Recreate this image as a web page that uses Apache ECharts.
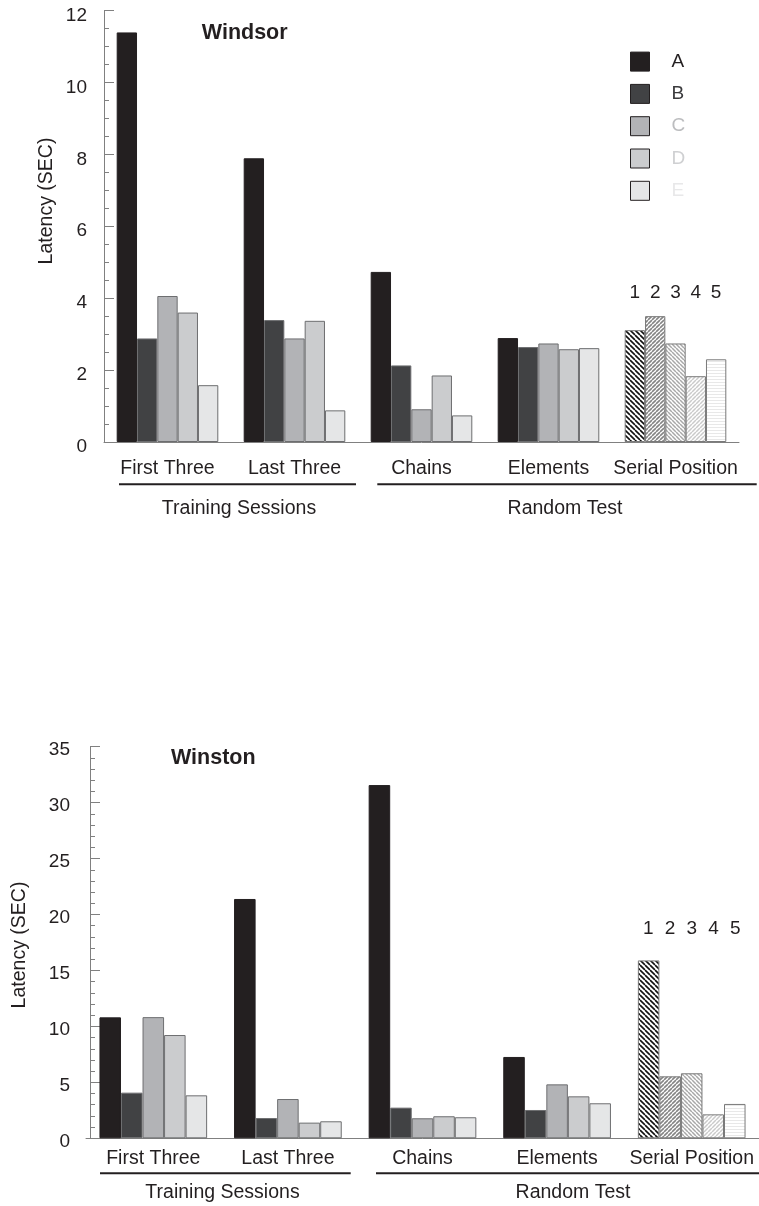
<!DOCTYPE html>
<html><head><meta charset="utf-8">
<script src="https://cdn.jsdelivr.net/npm/echarts@6/dist/echarts.min.js"></script>
<style>html,body{margin:0;padding:0;background:#fff}#c{width:759px;height:1206px}</style>
</head><body><div id="c"></div><script>
// ---------- data ----------
const categories = ['First Three', 'Last Three', 'Chains', 'Elements', 'Serial Position'];
const seriesNames = ['A', 'B', 'C', 'D', 'E'];
const positionLabels = ['1', '2', '3', '4', '5'];
const panelTitles = ['Windsor', 'Winston'];
const groupLabels = ['Training Sessions', 'Random Test'];
const yAxisName = 'Latency (SEC)';

// Windsor (first 4 categories), per series
const windsorA = [11.39, 7.89, 4.73, 2.89];
const windsorB = [2.88, 3.39, 2.13, 2.64];
const windsorC = [4.06, 2.88, 0.91, 2.74];
const windsorD = [3.60, 3.37, 1.85, 2.58];
const windsorE = [1.58, 0.88, 0.74, 2.61];
const windsorSerial = [3.11, 3.50, 2.74, 1.83, 2.30];

// Winston
const winstonA = [10.81, 21.39, 31.57, 7.27];
const winstonB = [4.08, 1.81, 2.74, 2.53];
const winstonC = [10.83, 3.51, 1.79, 4.82];
const winstonD = [9.23, 1.40, 1.97, 3.75];
const winstonE = [3.84, 1.52, 1.88, 3.13];
const winstonSerial = [15.9, 5.54, 5.81, 2.14, 3.07];

const yMax = [12, 35];
const yInterval = [2, 5];
const yMinorSplit = [4, 5];

// ---------- styling ----------
const FONT = '"Liberation Sans", Arial, Helvetica, sans-serif';
const INK = '#231f20';
const fills = ['#231f20', '#414244', '#b2b3b6', '#cbccce', '#e5e6e7'];
const legendText = ['#231f20', '#3a3a3c', '#bcbdbf', '#cfd0d2', '#e8e8e9'];

function makePattern(kind, color, lw, s) {
  const c = document.createElement('canvas');
  c.width = s; c.height = s;
  const ctx = c.getContext('2d');
  ctx.fillStyle = '#ffffff';
  ctx.fillRect(0, 0, s, s);
  ctx.strokeStyle = color;
  ctx.lineWidth = lw;
  ctx.beginPath();
  if (kind === 'h') {
    ctx.moveTo(0, s / 2); ctx.lineTo(s, s / 2);
  } else {
    for (const k of [-s, 0, s]) {
      if (kind === 'back') { ctx.moveTo(k, 0); ctx.lineTo(k + s, s); }
      else { ctx.moveTo(k, s); ctx.lineTo(k + s, 0); }
    }
  }
  ctx.stroke();
  return { image: c, repeat: 'repeat' };
}
const patterns = [
  makePattern('back', '#111111', 1.6, 5),
  makePattern('fwd', '#858585', 1.6, 4),
  makePattern('back', '#a8a8a8', 1.5, 4),
  makePattern('fwd', '#cacaca', 1.5, 4),
  makePattern('h', '#e8e8e8', 1, 3)
];

const panelValues = [
  [windsorA, windsorB, windsorC, windsorD, windsorE],
  [winstonA, winstonB, winstonC, winstonD, winstonE]
];
const panelSerial = [windsorSerial, winstonSerial];

const grids = [
  { left: 104, top: 10.5, width: 635, height: 431.5 },
  { left: 86, top: 746.7, width: 680, height: 391.6 }
];

const chart = echarts.init(document.getElementById('c'), null, { renderer: 'canvas' });

const series = [];
for (let g = 0; g < 2; g++) {
  for (let i = 0; i < 5; i++) {
    const data = panelValues[g][i].slice();
    data.push({ value: panelSerial[g][i], itemStyle: { color: patterns[i], borderColor: '#7a7a7a', borderWidth: 1 } });
    series.push({
      type: 'bar', name: seriesNames[i], xAxisIndex: g, yAxisIndex: g,
      barGap: '0%', barCategoryGap: '20%',
      itemStyle: { color: fills[i], borderColor: i === 0 ? fills[0] : '#6d6e70', borderWidth: 1 },
      emphasis: { disabled: true },
      data
    });
  }
}

const xAxes = [0, 1].map(g => ({
  type: 'category', gridIndex: g, data: categories,
  axisLine: { show: true, lineStyle: { color: '#808080', width: 1 } },
  axisTick: { show: false },
  axisLabel: { interval: 0, fontSize: 19.5, fontFamily: FONT, color: INK, margin: g === 0 ? 17 : 10 }
}));
const yAxes = [0, 1].map(g => ({
  type: 'value', gridIndex: g, min: 0, max: yMax[g], interval: yInterval[g],
  offset: g === 1 ? -4 : 0,
  axisLine: { show: true, lineStyle: { color: '#808080', width: 1 } },
  axisTick: { show: true, inside: true, length: 10, lineStyle: { color: '#808080' } },
  minorTick: { show: true, splitNumber: yMinorSplit[g], length: 5, lineStyle: { color: '#808080' } },
  splitLine: { show: false },
  axisLabel: {
    fontSize: 19, fontFamily: FONT, color: INK, margin: g === 0 ? 17 : 20,
    verticalAlign: 'top', lineHeight: g === 0 ? 10 : 7
  }
}));

function txt(text, x, y, size, opts) {
  opts = opts || {};
  return {
    type: 'text', x, y, rotation: opts.rotation || 0, silent: true,
    style: {
      text, fill: INK,
      font: (opts.bold ? 'bold ' : '') + size + 'px ' + FONT,
      textAlign: 'center', textVerticalAlign: 'middle', align: 'center', verticalAlign: 'middle'
    }
  };
}
function hline(x1, x2, y) {
  return { type: 'line', silent: true, shape: { x1, y1: y, x2, y2: y }, style: { stroke: INK, lineWidth: 2 } };
}

const graphic = [
  txt(panelTitles[0], 244.7, 33, 21.5, { bold: true }),
  txt(panelTitles[1], 213.3, 758.3, 21.5, { bold: true }),
  txt(yAxisName, 46.7, 201, 19.5, { rotation: Math.PI / 2 }),
  txt(yAxisName, 20, 945, 19.5, { rotation: Math.PI / 2 }),
  hline(119, 356, 484.3), hline(377.3, 756.7, 484.3),
  txt(groupLabels[0], 239, 509, 19.5), txt(groupLabels[1], 565, 509, 19.5),
  hline(100, 350.7, 1173.3), hline(376, 759, 1173.3),
  txt(groupLabels[0], 222.5, 1193, 19.5), txt(groupLabels[1], 573, 1193, 19.5)
];

chart.setOption({
  animation: false,
  backgroundColor: '#ffffff',
  grid: grids,
  xAxis: xAxes,
  yAxis: yAxes,
  legend: {
    data: seriesNames.map((n, i) => ({ name: n, textStyle: { color: legendText[i] } })),
    orient: 'vertical', left: 630, top: 51.6, padding: 0,
    itemWidth: 19, itemHeight: 19, itemGap: 12.3,
    icon: 'rect',
    itemStyle: { borderColor: '#231f20', borderWidth: 1 },
    textStyle: { fontSize: 19, fontFamily: FONT, lineHeight: 19, padding: [0, 0, 0, 17] },
    selectedMode: false
  },
  series,
  graphic
});

// serial position numbers above the patterned bars
const labelLevels = [4.15, 18.7];
const extra = [];
for (let g = 0; g < 2; g++) {
  const cx = chart.convertToPixel({ xAxisIndex: g }, categories[4]);
  const band = grids[g].width / categories.length;
  const bw = band * 0.8 / 5;
  const y = chart.convertToPixel({ yAxisIndex: g }, labelLevels[g]);
  positionLabels.forEach((t, i) => extra.push(txt(t, cx + (i - 2) * bw, y, 19)));
}
chart.setOption({ graphic: graphic.concat(extra) });
</script></body></html>
